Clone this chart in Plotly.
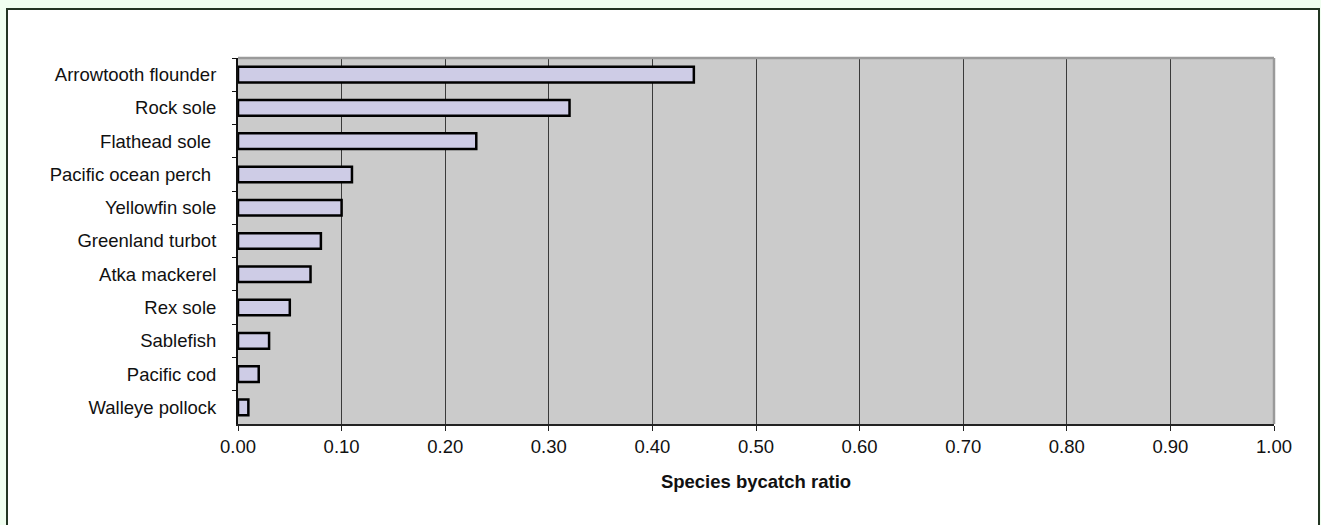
import plotly.graph_objects as go

species = ["Arrowtooth flounder", "Rock sole", "Flathead sole\u00a0", "Pacific ocean perch\u00a0",
           "Yellowfin sole", "Greenland turbot", "Atka mackerel", "Rex sole",
           "Sablefish", "Pacific cod", "Walleye pollock"]
ratio = [0.44, 0.32, 0.23, 0.11, 0.10, 0.08, 0.07, 0.05, 0.03, 0.02, 0.01]
x_ticks = [0.0, 0.1, 0.2, 0.3, 0.4, 0.5, 0.6, 0.7, 0.8, 0.9, 1.0]
x_title = "Species bycatch ratio"

W, H = 1321, 525
ML, MR, MT, MB = 238, 47, 58, 101
PW, PH = W - ML - MR, H - MT - MB

def px(x):
    return (x - ML) / PW

def py(y):
    return (H - MB - y) / PH

FONT = "Liberation Sans, Arial, sans-serif"
PLOT_BG = "#CBCBCB"

fig = go.Figure(go.Bar(
    x=ratio, y=species, orientation="h", width=0.47,
    marker=dict(color="#CECCE6", line=dict(color="#000000", width=2.5)),
))

fig.update_layout(
    width=W, height=H,
    margin=dict(l=ML, r=MR, t=MT, b=MB, autoexpand=False),
    paper_bgcolor="#F0FFF0",
    plot_bgcolor=PLOT_BG,
    showlegend=False,
    font=dict(family=FONT, size=18.5, color="#111111"),
    shapes=[
        dict(type="rect", xref="paper", yref="paper", layer="below",
             x0=px(7), x1=px(1319), y0=py(9), y1=py(540),
             fillcolor="#FFFFFF", line=dict(color="#233523", width=2)),
        dict(type="rect", xref="paper", yref="paper", layer="below",
             x0=0, x1=1, y0=0, y1=1,
             fillcolor=PLOT_BG, line=dict(width=0)),
        dict(type="line", xref="paper", yref="paper", layer="above",
             x0=0, x1=1, y0=1, y1=1, line=dict(color="#9A9A9A", width=2.5)),
        dict(type="line", xref="paper", yref="paper", layer="above",
             x0=1, x1=1, y0=0, y1=1, line=dict(color="#9A9A9A", width=2.5)),
    ],
)

fig.update_xaxes(
    range=[0, 1], tickvals=x_ticks, tickformat=".2f",
    showgrid=True, gridcolor="#3A3A3A", gridwidth=1,
    showline=True, linecolor="#222222", linewidth=2,
    ticks="outside", ticklen=5, tickcolor="#222222", tickwidth=1,
    zeroline=False,
    title=dict(text="<b>" + x_title + "</b>", font=dict(size=18.5), standoff=19),
    fixedrange=True,
)
fig.update_yaxes(
    categoryorder="array", categoryarray=species, autorange="reversed",
    showgrid=False, zeroline=False,
    showline=True, linecolor="#111111", linewidth=2,
    ticks="outside", tickson="boundaries", ticklen=4, tickcolor="#111111", tickwidth=1,
    ticklabelstandoff=16,
    fixedrange=True,
)

fig.write_html("out.html")
